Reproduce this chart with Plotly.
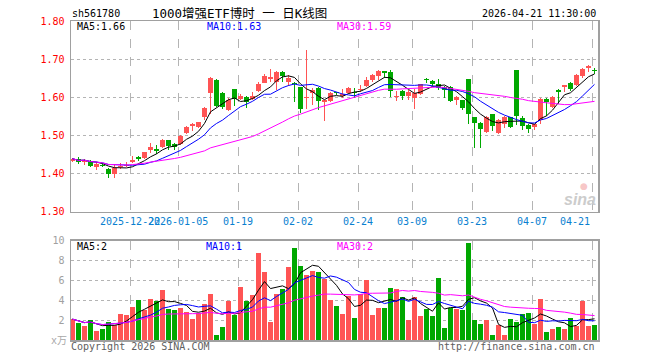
import plotly.graph_objects as go
import pandas as pd

dates = [
    "2025-12-08", "2025-12-09", "2025-12-10", "2025-12-11", "2025-12-12",
    "2025-12-15", "2025-12-16", "2025-12-17", "2025-12-18", "2025-12-19",
    "2025-12-22", "2025-12-23", "2025-12-24", "2025-12-25", "2025-12-26",
    "2025-12-29", "2025-12-30", "2025-12-31",
    "2026-01-05", "2026-01-06", "2026-01-07", "2026-01-08", "2026-01-09",
    "2026-01-12", "2026-01-13", "2026-01-14", "2026-01-15", "2026-01-16",
    "2026-01-19", "2026-01-20", "2026-01-21", "2026-01-22", "2026-01-23",
    "2026-01-26", "2026-01-27", "2026-01-28", "2026-01-29", "2026-01-30",
    "2026-02-02", "2026-02-03", "2026-02-04", "2026-02-05", "2026-02-06",
    "2026-02-09", "2026-02-10", "2026-02-11", "2026-02-12", "2026-02-13",
    "2026-02-24", "2026-02-25", "2026-02-26", "2026-02-27",
    "2026-03-02", "2026-03-03", "2026-03-04", "2026-03-05", "2026-03-06",
    "2026-03-09", "2026-03-10", "2026-03-11", "2026-03-12", "2026-03-13",
    "2026-03-16", "2026-03-17", "2026-03-18", "2026-03-19", "2026-03-20",
    "2026-03-23", "2026-03-24", "2026-03-25", "2026-03-26", "2026-03-27",
    "2026-03-30", "2026-03-31", "2026-04-01", "2026-04-02", "2026-04-03",
    "2026-04-07", "2026-04-08", "2026-04-09", "2026-04-10",
    "2026-04-13", "2026-04-14", "2026-04-15", "2026-04-16", "2026-04-17",
    "2026-04-20", "2026-04-21",
]

opens = [
    1.433, 1.438, 1.430, 1.430, 1.416, 1.423, 1.412, 1.398, 1.417, 1.419,
    1.432, 1.443, 1.440, 1.461, 1.4625, 1.470, 1.487, 1.477, 1.477, 1.507,
    1.524, 1.521, 1.547, 1.610, 1.646, 1.610, 1.567, 1.622, 1.596, 1.601,
    1.595, 1.617, 1.638, 1.647, 1.641, 1.667, 1.641, 1.638, 1.626, 1.600,
    1.610, 1.624, 1.587, 1.589, 1.613, 1.604, 1.610, 1.614, 1.620, 1.629,
    1.6448, 1.6553, 1.6693, 1.6675, 1.601, 1.6168, 1.6045, 1.5993, 1.608, 1.6465,
    1.643, 1.6343, 1.6273, 1.6273, 1.5923, 1.5923, 1.6483, 1.5485, 1.5328, 1.5083,
    1.5555, 1.5065, 1.529, 1.547, 1.671, 1.545, 1.5275, 1.5223, 1.5415, 1.5958,
    1.5748, 1.620, 1.6273, 1.6378, 1.6325, 1.657, 1.6763, 1.670,
]
highs = [
    1.442, 1.444, 1.437, 1.435, 1.431, 1.427, 1.415, 1.426, 1.428, 1.431,
    1.445, 1.445, 1.457, 1.479, 1.475, 1.491, 1.489, 1.479, 1.500, 1.524,
    1.533, 1.536, 1.575, 1.654, 1.647, 1.615, 1.598, 1.623, 1.608, 1.603,
    1.613, 1.639, 1.661, 1.675, 1.669, 1.668, 1.659, 1.639, 1.627, 1.723,
    1.624, 1.626, 1.594, 1.615, 1.615, 1.622, 1.627, 1.624, 1.631, 1.652,
    1.6605, 1.671, 1.670, 1.671, 1.617, 1.618, 1.6185, 1.622, 1.636, 1.6518,
    1.6465, 1.6483, 1.629, 1.629, 1.6028, 1.594, 1.649, 1.549, 1.534, 1.550,
    1.557, 1.543, 1.550, 1.548, 1.672, 1.550, 1.529, 1.531, 1.5975, 1.597,
    1.6028, 1.621, 1.6325, 1.6413, 1.6605, 1.676, 1.685, 1.6763,
]
lows = [
    1.430, 1.424, 1.423, 1.416, 1.410, 1.418, 1.389, 1.389, 1.412, 1.416,
    1.429, 1.433, 1.437, 1.454, 1.452, 1.468, 1.461, 1.463, 1.475, 1.505,
    1.512, 1.519, 1.540, 1.556, 1.575, 1.568, 1.564, 1.577, 1.592, 1.572,
    1.592, 1.615, 1.637, 1.640, 1.618, 1.641, 1.629, 1.587, 1.560, 1.568,
    1.580, 1.566, 1.538, 1.588, 1.606, 1.599, 1.608, 1.597, 1.614, 1.627,
    1.6395, 1.6465, 1.650, 1.601, 1.589, 1.594, 1.5923, 1.568, 1.6063, 1.6378,
    1.629, 1.6185, 1.5975, 1.5888, 1.580, 1.566, 1.531, 1.468, 1.466, 1.507,
    1.512, 1.505, 1.519, 1.520, 1.528, 1.5135, 1.507, 1.5153, 1.529, 1.552,
    1.573, 1.5818, 1.615, 1.6168, 1.6308, 1.650, 1.6658, 1.6623,
]
closes = [
    1.439, 1.430, 1.436, 1.421, 1.424, 1.419, 1.398, 1.415, 1.420, 1.422,
    1.434, 1.437, 1.456, 1.470, 1.461, 1.487, 1.472, 1.470, 1.498, 1.522,
    1.529, 1.535, 1.573, 1.650, 1.577, 1.575, 1.593, 1.596, 1.604, 1.587,
    1.604, 1.636, 1.657, 1.652, 1.667, 1.655, 1.650, 1.636, 1.568, 1.601,
    1.619, 1.589, 1.592, 1.612, 1.610, 1.609, 1.6255, 1.612, 1.623, 1.6465,
    1.6588, 1.6693, 1.664, 1.6168, 1.603, 1.6045, 1.615, 1.6115, 1.6343, 1.645,
    1.636, 1.6255, 1.6203, 1.5905, 1.601, 1.5713, 1.5573, 1.5328, 1.517, 1.5485,
    1.5258, 1.5398, 1.5485, 1.5223, 1.552, 1.526, 1.517, 1.529, 1.5958, 1.5888,
    1.601, 1.615, 1.6325, 1.622, 1.6588, 1.6745, 1.6815, 1.669,
]
volumes = [
    2.1, 1.7, 1.45, 2.0, 0.95, 1.1, 1.85, 1.5, 2.6, 2.5,
    3.3, 4.05, 3.0, 4.15, 3.9, 5.05, 3.15, 3.05, 3.25, 2.85,
    2.1, 2.7, 3.65, 4.65, 0.55, 1.35, 3.95, 2.55, 5.35, 3.9,
    4.5, 8.75, 6.85, 1.85, 4.65, 5.1, 7.35, 9.25, 7.45, 6.55,
    6.95, 6.85, 6.15, 4.05, 3.45, 2.65, 4.45, 2.25, 4.65, 6.05,
    2.55, 3.25, 3.25, 5.25, 5.15, 4.35, 2.05, 4.35, 2.45, 3.15,
    2.45, 6.25, 1.25, 3.25, 3.15, 3.05, 9.75, 2.05, 1.65, 2.05,
    0.55, 1.55, 0.55, 2.15, 1.85, 2.65, 2.75, 1.65, 4.15, 0.85,
    1.15, 1.35, 1.15, 2.25, 1.45, 3.95, 1.45, 1.55,
]

tick_dates = ["2025-12-22", "2026-01-05", "2026-01-19", "2026-02-02", "2026-02-24",
              "2026-03-09", "2026-03-23", "2026-04-07", "2026-04-21"]
tick_labels = ["2025-12-22", "2026-01-05", "01-19", "02-02", "02-24",
               "03-09", "03-23", "04-07", "04-21"]
price_ticks = [1.30, 1.40, 1.50, 1.60, 1.70, 1.80]
vol_ticks = [2, 4, 6, 8, 10]

code = "sh561780"
title = "1000增强ETF博时 一 日K线图"
stamp = "2026-04-21 11:30:00"

RED = "#ff5454"
GREEN = "#00a800"
GRID = "#b4b4b4"
BORDER = "#a0a0a0"
MONO = "DejaVu Sans Mono, Liberation Mono, monospace"

n = len(dates)
idx = list(range(n))
df = pd.DataFrame({"o": opens, "h": highs, "l": lows, "c": closes, "v": volumes})
ma = {}
for w in (5, 10, 30):
    ma[("p", w)] = df["c"].rolling(w, min_periods=1).mean()
    ma[("v", w)] = df["v"].rolling(w, min_periods=1).mean()

up = [c >= o for o, c in zip(opens, closes)]

fig = go.Figure()
MINH = 0.0028
for is_up, col in ((True, RED), (False, GREEN)):
    sel = [i for i in idx if up[i] == is_up]
    # wicks
    fig.add_trace(go.Bar(
        x=sel, y=[highs[i] - lows[i] for i in sel], base=[lows[i] for i in sel],
        width=0.18, marker=dict(color=col, line=dict(width=0)),
        xaxis="x", yaxis="y", showlegend=False, hoverinfo="skip"))
    # bodies
    hs, bs = [], []
    for i in sel:
        lo, hi = min(opens[i], closes[i]), max(opens[i], closes[i])
        d = hi - lo
        if d < MINH:
            lo -= (MINH - d) / 2
            d = MINH
        hs.append(d)
        bs.append(lo)
    fig.add_trace(go.Bar(
        x=sel, y=hs, base=bs, width=0.82,
        marker=dict(color=col, line=dict(width=0)),
        xaxis="x", yaxis="y", showlegend=False, hoverinfo="skip"))
    # volume
    fig.add_trace(go.Bar(
        x=sel, y=[volumes[i] for i in sel], width=0.84,
        marker=dict(color=col, line=dict(width=0)),
        xaxis="x2", yaxis="y2", showlegend=False, hoverinfo="skip"))

ma_cols = {5: "#000000", 10: "#0000ff", 30: "#ff00ff"}
for w in (5, 10, 30):
    fig.add_trace(go.Scatter(x=idx, y=ma[("p", w)], mode="lines",
                             line=dict(color=ma_cols[w], width=1),
                             xaxis="x", yaxis="y", showlegend=False, hoverinfo="skip"))
    fig.add_trace(go.Scatter(x=idx, y=ma[("v", w)], mode="lines",
                             line=dict(color=ma_cols[w], width=1),
                             xaxis="x2", yaxis="y2", showlegend=False, hoverinfo="skip"))

tick_pos = [dates.index(d) - 0.4 for d in tick_dates]

L, R, T, B = 71, 598, 21, 340
W, H = R - L, B - T
VOL_TOP = 240.5
PRICE_BOT = 211.7

xcommon = dict(range=[-0.25, 87.58], tickvals=tick_pos, showticklabels=False,
               showgrid=True, gridcolor=GRID, griddash="dash", gridwidth=1,
               zeroline=False, showline=True, mirror=True, linecolor=BORDER,
               linewidth=1.5, ticks="", fixedrange=True)

fig.update_layout(
    width=660, height=360,
    margin=dict(l=L, r=660 - R, t=T, b=360 - B),
    paper_bgcolor="white", plot_bgcolor="white",
    barmode="overlay", bargap=0,
    xaxis=dict(anchor="y", **xcommon),
    xaxis2=dict(anchor="y2", matches="x", **xcommon),
    yaxis=dict(domain=[(B - PRICE_BOT) / H, 1], range=[1.30, 1.80], tickvals=price_ticks,
               ticktext=[f"{t:.2f}" for t in price_ticks],
               tickfont=dict(color="#ff0000", size=10, family=MONO),
               showgrid=True, gridcolor=GRID, griddash="dot", zeroline=False,
               showline=True, mirror=True, linecolor=BORDER, linewidth=1.5,
               ticks="outside", ticklen=3, tickcolor="rgba(0,0,0,0)", fixedrange=True),
    yaxis2=dict(domain=[0, (B - VOL_TOP) / H], range=[0, 10], tickvals=vol_ticks,
                ticktext=[str(t) for t in vol_ticks],
                tickfont=dict(color="#a0a0a0", size=10, family=MONO),
                showgrid=True, gridcolor=GRID, griddash="dot", zeroline=False,
                showline=True, mirror=True, linecolor=BORDER, linewidth=1.5,
                ticks="outside", ticklen=3, tickcolor="rgba(0,0,0,0)", fixedrange=True),
    font=dict(family=MONO),
)


def px(x):
    return (x - L) / W


def py(y):
    return (B - y) / H


def ann(text, x, y, color, size=10, xanchor="left", family=MONO, **kw):
    fig.add_annotation(text=text, x=px(x), y=py(y), xref="paper", yref="paper",
                       xanchor=xanchor, yanchor="middle", showarrow=False,
                       font=dict(color=color, size=size, family=family), **kw)


CJK = "DejaVu Sans Mono, Noto Sans CJK SC, sans-serif"
ann(code, 70, 13.5, "#000000", 10)
ann(title, 150, 13.5, "#000000", 12.5, family=CJK)
ann(stamp, 597.5, 13.5, "#000000", 10, xanchor="right")

ann(f"MA5:{ma[('p', 5)].iloc[-1]:.2f}", 74.5, 26.7, "#000000")
ann(f"MA10:{ma[('p', 10)].iloc[-1]:.2f}", 205, 26.7, "#0000ff")
ann(f"MA30:{ma[('p', 30)].iloc[-1]:.2f}", 334.6, 26.7, "#ff00ff")

ann(f"MA5:{int(ma[('v', 5)].iloc[-1])}", 75, 246.7, "#000000")
ann(f"MA10:{int(ma[('v', 10)].iloc[-1])}", 204.3, 246.7, "#0000ff")
ann(f"MA30:{int(ma[('v', 30)].iloc[-1])}", 334.7, 246.7, "#ff00ff")

for pos, lab in zip(tick_pos, tick_labels):
    xpix = L + (pos + 0.25) * W / (87.58 + 0.25)
    if lab == tick_labels[-1]:
        ann(lab, xpix, 221.7, "#0a7fd0", 10, xanchor="right")
    else:
        ann(lab, xpix, 221.7, "#0a7fd0", 10, xanchor="center")

ann("x万", 49, 341, "#a8a8a8", 10, family=CJK)
ann("Copyright 2026 SINA.COM", 69, 346.5, "#606060", 10)
ann("http://finance.sina.com.cn", 597, 346.5, "#606060", 10, xanchor="right")
ann("<b><i>sina</i></b>", 598, 199, "#cccccc", 16, xanchor="right",
    family="Liberation Sans, Arial, sans-serif")
ann("●", 584, 186, "rgba(240,150,150,0.55)", 9, xanchor="center",
    family="DejaVu Sans, sans-serif")

fig.write_html("out.html", config={"displayModeBar": False, "staticPlot": True},
               post_script="document.body.style.margin='0px';")
